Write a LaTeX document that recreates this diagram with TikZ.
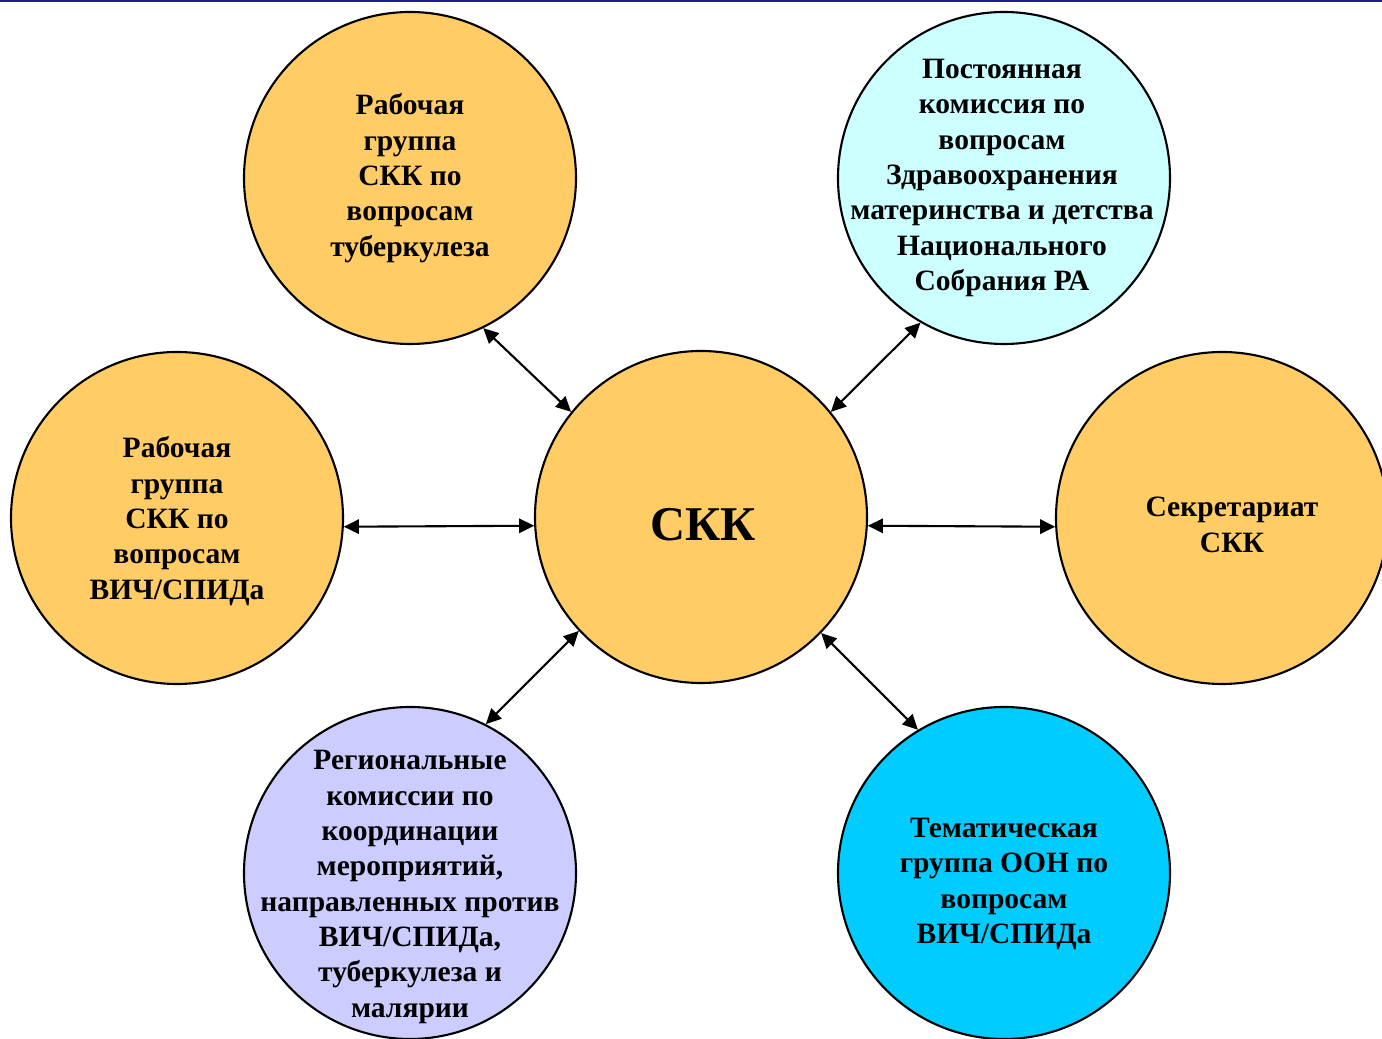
\documentclass[tikz,border=0pt]{standalone}
\usepackage{fontspec}
\setmainfont{Liberation Serif}
\usepackage{tikz}
\usetikzlibrary{arrows.meta}
\definecolor{orng}{RGB}{255,204,102}
\definecolor{lcyan}{RGB}{204,255,255}
\definecolor{lilac}{RGB}{204,204,255}
\definecolor{skyb}{RGB}{0,204,255}
\definecolor{topline}{RGB}{30,30,150}
\tikzset{
  orb/.style={circle, draw=black, line width=0.6pt, minimum size=3.32cm, inner sep=0pt},
  txt/.style={align=center, inner sep=0pt, font=\fontsize{8.4}{10.05}\selectfont\bfseries},
  link/.style={{Triangle[length=4.3pt,width=4.1pt]}-{Triangle[length=4.3pt,width=4.1pt]}, line width=0.6pt}
}

\begin{document}
\begin{tikzpicture}
        \useasboundingbox (0,0) rectangle (13.82,10.39);
        \clip (0,0) rectangle (13.82,10.39);
        \draw[topline, line width=0.6pt] (0,10.38) -- (13.82,10.38);
        % circles
        \node[orb, fill=orng] (skk) at (7.01,5.22) {};
        \node[orb, fill=orng] (tb) at (4.10,8.61) {};
        \node[orb, fill=lcyan] (comm) at (10.04,8.61) {};
        \node[orb, fill=orng] (hiv) at (1.77,5.21) {};
        \node[orb, fill=orng] (secr) at (12.22,5.21) {};
        \node[orb, fill=lilac] (reg) at (4.10,1.66) {};
        \node[orb, fill=skyb] (un) at (10.04,1.66) {};
        % texts
        \node[txt, font=\fontsize{13.8}{16}\selectfont\bfseries] (skk-t) at ([xshift=0.02cm, yshift=-0.08cm]skk) {СКК};
        \node[txt] (tb-t) at (tb) {Рабочая\\группа\\СКК по\\вопросам\\туберкулеза};
        \node[txt] (comm-t) at ([xshift=-0.02cm]comm) {Постоянная\\комиссия по\\вопросам\\Здравоохранения\\материнства и детства\\Национального\\Собрания РА};
        \node[txt] (hiv-t) at ([yshift=-0.03cm]hiv) {Рабочая\\группа\\СКК по\\вопросам\\ВИЧ/СПИДа};
        \node[txt] (secr-t) at ([xshift=0.1cm, yshift=-0.07cm]secr) {Секретариат\\СКК};
        \node[txt] (reg-t) at ([yshift=-0.14cm]reg) {Региональные\\комиссии по\\координации\\мероприятий,\\направленных против\\ВИЧ/СПИДа,\\туберкулеза и\\малярии};
        \node[txt] (un-t) at ([yshift=-0.11cm]un) {Тематическая\\группа ООН по\\вопросам\\ВИЧ/СПИДа};
        % links to the centre
        \draw[link] (tb.-64) -- (skk.141);
        \draw[link] (comm.240) -- (skk.39);
        \draw[link] (hiv.-3.5) -- (skk.183.7);
        \draw[link] (skk.-3.7) -- (secr.183.5);
        \draw[link] (skk.223) -- (reg.63);
        \draw[link] (skk.316) -- (un.121);
\end{tikzpicture}
\end{document}
